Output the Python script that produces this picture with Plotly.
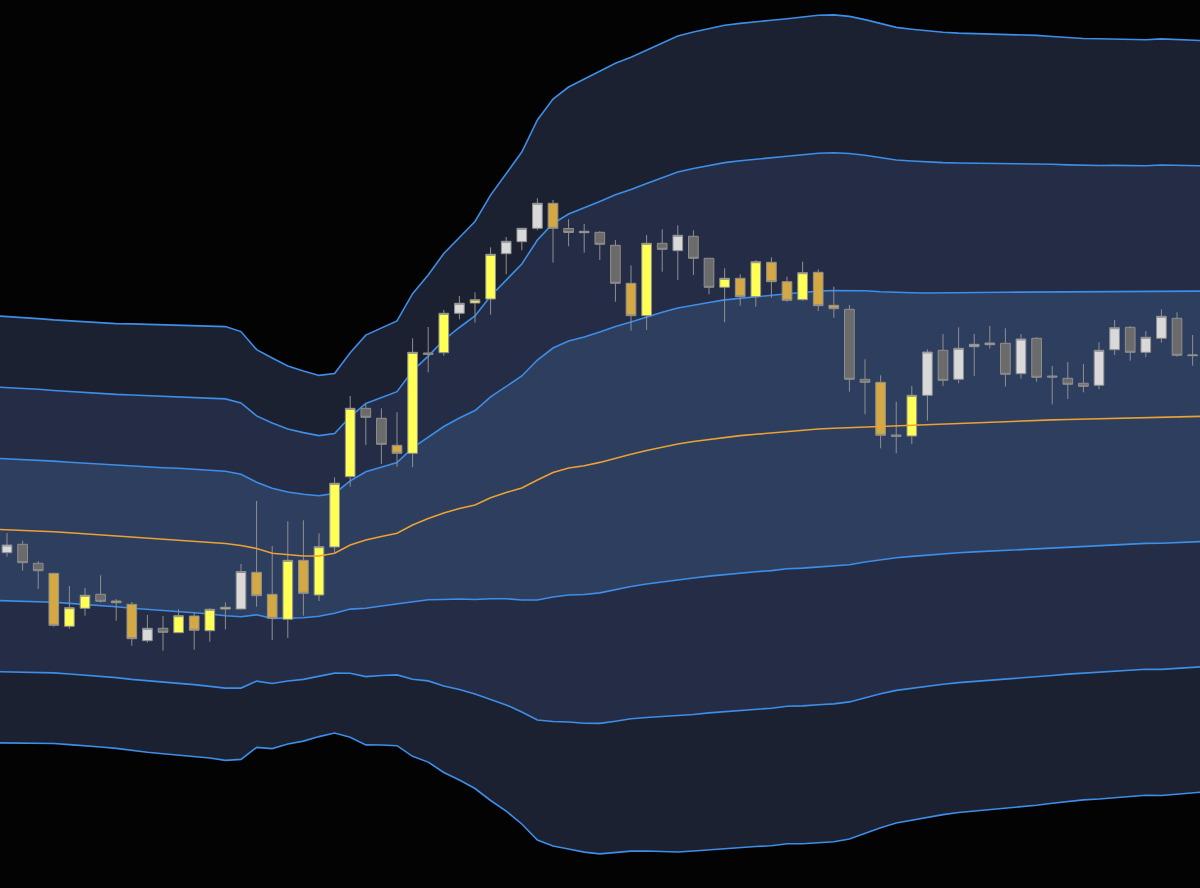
import plotly.graph_objects as go

# ---- candle data (index positions 0..76) ----
candle_idx = list(range(77))
colour_class = ["W", "D", "D", "G", "Y", "Y", "D", "G", "G", "W",
                "D", "Y", "G", "Y", "Y", "W", "G", "G", "Y", "G",
                "Y", "Y", "Y", "D", "D", "G", "Y", "D", "Y", "W",
                "Y", "Y", "W", "W", "W", "G", "D", "W", "D", "D",
                "G", "Y", "D", "W", "D", "D", "Y", "G", "Y", "G",
                "G", "Y", "G", "G", "D", "D", "G", "D", "Y", "W",
                "D", "W", "W", "W", "D", "W", "D", "D", "D", "D",
                "W", "W", "D", "W", "W", "D", "W"]
open_ = [335.3, 343.7, 324.7, 314.7, 261.7, 279.7, 293.7, 287.0, 283.7, 247.3,
         259.7, 255.3, 272.0, 257.3, 279.0, 279.0, 315.7, 293.7, 268.7, 327.7,
         293.0, 341.0, 411.3, 479.7, 469.7, 442.7, 434.7, 535.0, 535.3, 574.7,
         585.0, 589.0, 634.3, 646.3, 659.7, 684.7, 659.5, 655.3, 655.7, 642.7,
         604.7, 572.3, 644.7, 637.3, 651.7, 629.7, 600.7, 609.7, 591.3, 625.7,
         606.3, 588.3, 615.7, 582.7, 578.7, 508.7, 505.7, 453.0, 452.0, 492.7,
         537.7, 508.7, 541.3, 543.3, 544.7, 514.3, 549.7, 512.0, 509.7, 504.7,
         502.7, 538.3, 560.7, 535.7, 549.7, 569.7, 532.3]
high = [355.0, 347.3, 327.0, 315.0, 302.0, 300.0, 312.7, 289.0, 286.0, 273.0,
        272.0, 278.7, 275.7, 279.7, 285.7, 324.0, 387.0, 342.0, 366.7, 367.7,
        354.7, 410.7, 492.0, 484.0, 479.7, 475.7, 549.7, 561.0, 578.0, 592.0,
        595.7, 640.7, 651.0, 659.7, 689.7, 688.0, 668.7, 664.0, 657.0, 648.0,
        622.7, 653.0, 658.7, 662.7, 657.7, 629.7, 619.7, 613.7, 628.0, 630.7,
        611.3, 626.3, 618.7, 601.3, 583.0, 528.7, 512.7, 486.3, 502.0, 538.7,
        554.0, 560.7, 554.0, 562.0, 559.7, 554.0, 551.0, 522.0, 526.0, 524.0,
        545.7, 568.0, 562.0, 557.0, 578.7, 575.7, 553.0]
low = [331.3, 317.3, 299.0, 261.3, 259.3, 272.3, 285.3, 267.3, 242.3, 245.3,
       237.3, 255.3, 238.3, 246.3, 258.7, 279.0, 281.3, 248.0, 250.0, 272.3,
       287.0, 334.7, 401.3, 443.0, 424.0, 421.3, 420.7, 515.7, 532.3, 568.7,
       565.3, 573.3, 613.7, 637.7, 657.7, 625.3, 641.7, 635.3, 628.0, 586.3,
       557.3, 558.0, 616.3, 608.0, 613.0, 593.7, 565.7, 582.3, 581.3, 590.3,
       586.3, 587.3, 577.0, 570.3, 496.3, 473.7, 439.7, 434.7, 444.0, 467.3,
       502.0, 504.7, 512.0, 539.3, 501.3, 509.3, 506.3, 483.7, 489.0, 495.7,
       498.7, 533.0, 527.3, 530.7, 545.3, 531.3, 522.3]
close = [343.0, 325.3, 317.3, 262.7, 280.3, 292.7, 286.7, 285.3, 249.3, 259.7,
         255.7, 272.3, 257.7, 278.7, 280.7, 316.5, 292.3, 269.7, 327.7, 294.7,
         341.3, 404.7, 479.7, 470.7, 443.7, 434.7, 535.7, 533.7, 574.7, 584.7,
         588.3, 633.7, 646.7, 659.7, 684.7, 659.7, 655.5, 656.7, 643.7, 604.7,
         572.3, 644.7, 638.7, 652.7, 629.7, 600.7, 609.7, 591.3, 626.3, 606.3,
         587.7, 615.3, 582.3, 579.3, 508.7, 505.7, 452.7, 451.7, 492.7, 536.0,
         507.7, 539.7, 543.7, 545.0, 513.7, 549.0, 510.7, 511.0, 503.7, 501.7,
         537.7, 560.3, 535.7, 550.7, 571.7, 532.7, 533.0]

# ---- band data (index positions -1..77) ----
band_idx = list(range(-1, 78))
band_mid = [358.8, 358.3, 357.8, 357.3, 356.3, 355.2, 354.2, 353.1, 352.0, 350.8,
            349.7, 348.8, 348.0, 347.0, 346.0, 344.5, 342.5, 339.5, 334.7, 333.0,
            332.0, 332.0, 334.7, 343.0, 348.0, 351.5, 354.7, 363.0, 369.5, 375.0,
            379.5, 383.0, 390.2, 395.5, 400.0, 408.0, 415.5, 420.0, 422.3, 425.6,
            430.0, 433.8, 437.5, 441.0, 444.0, 446.5, 448.7, 450.8, 452.4, 453.7,
            455.0, 456.8, 457.7, 459.0, 459.7, 460.3, 461.6, 462.2, 462.8, 463.4,
            464.0, 464.6, 465.2, 465.7, 466.2, 466.7, 467.2, 467.7, 468.1, 468.5,
            468.8, 469.1, 469.6, 470.1, 470.5, 470.8, 471.1, 471.5, 471.8]
band_sd = [71.2, 71.1, 70.9, 70.7, 70.6, 70.6, 70.6, 70.7, 70.8, 71.1,
           71.3, 71.5, 71.7, 71.8, 72.0, 72.3, 71.3, 66.3, 65.1, 63.0,
           61.7, 60.2, 59.9, 64.1, 68.3, 69.5, 70.8, 77.1, 81.2, 86.5,
           90.5, 94.5, 100.9, 106.2, 112.0, 120.0, 124.5, 127.0, 128.8, 130.5,
           131.6, 132.3, 133.5, 134.8, 136.0, 136.5, 136.8, 137.3, 137.4, 137.4,
           137.6, 137.5, 137.8, 137.9, 137.8, 137.1, 135.6, 134.0, 132.6, 131.8,
           131.0, 130.4, 129.9, 129.6, 129.3, 129.0, 128.7, 128.3, 127.8, 127.3,
           126.9, 126.7, 126.5, 126.2, 125.9, 126.1, 125.8, 125.4, 125.1]
band_mult = [-3, -2, -1, 0, 1, 2, 3]

BG = "#030303"
FILL_OUTER = "#1b2130"
FILL_MID = "#242d45"
FILL_INNER = "#2e3e5f"
BLUE = "#3d8ee8"
ORANGE = "#eba233"
CLASS_COLOURS = {"Y": "#ffff55", "W": "#d9d9d9", "G": "#d4a843", "D": "#6b6b6b"}
OUTLINE = "#8f8f8f"

fig = go.Figure()

bands = {k: [m + k * s for m, s in zip(band_mid, band_sd)] for k in band_mult}
fill_for = {-3: None, -2: FILL_OUTER, -1: FILL_MID, 0: FILL_INNER,
            1: FILL_INNER, 2: FILL_MID, 3: FILL_OUTER}

# fills (bottom to top) on the base axes
for k in band_mult:
    fig.add_trace(go.Scatter(
        x=band_idx, y=bands[k], mode="lines",
        line=dict(width=0, color="rgba(0,0,0,0)"),
        fill=None if fill_for[k] is None else "tonexty",
        fillcolor=fill_for[k], hoverinfo="skip", showlegend=False))

# blue band lines on the base axes
for k in band_mult:
    if k == 0:
        continue
    fig.add_trace(go.Scatter(
        x=band_idx, y=bands[k], mode="lines",
        line=dict(width=1.6, color=BLUE),
        hoverinfo="skip", showlegend=False))

# candles on an overlaid axis pair (drawn above the fills)
for cls, col in CLASS_COLOURS.items():
    sel = [i for i in candle_idx if colour_class[i] == cls]
    fig.add_trace(go.Candlestick(
        x=sel,
        open=[open_[i] for i in sel], high=[high[i] for i in sel],
        low=[low[i] for i in sel], close=[close[i] for i in sel],
        increasing=dict(fillcolor=col, line=dict(color=OUTLINE, width=1)),
        decreasing=dict(fillcolor=col, line=dict(color=OUTLINE, width=1)),
        whiskerwidth=0, showlegend=False, xaxis="x2", yaxis="y2"))

# middle line (orange) on top of candles
fig.add_trace(go.Scatter(
    x=band_idx, y=bands[0], mode="lines",
    line=dict(width=1.6, color=ORANGE),
    hoverinfo="skip", showlegend=False, xaxis="x2", yaxis="y2"))

XR = [-0.449, 76.474]
YR = [0, 888]
fig.update_layout(
    width=1200, height=888,
    margin=dict(l=0, r=0, t=0, b=0),
    paper_bgcolor=BG, plot_bgcolor=BG,
    showlegend=False,
    boxgap=0.38, boxgroupgap=0,
    xaxis=dict(range=XR, visible=False, showgrid=False, zeroline=False,
               rangeslider=dict(visible=False)),
    yaxis=dict(range=YR, visible=False, showgrid=False, zeroline=False),
    xaxis2=dict(range=XR, visible=False, showgrid=False, zeroline=False,
                overlaying="x", rangeslider=dict(visible=False)),
    yaxis2=dict(range=YR, visible=False, showgrid=False, zeroline=False,
                overlaying="y"),
)

fig.write_html("out.html", config={"displayModeBar": False},
               post_script="document.body.style.margin='0px';")
